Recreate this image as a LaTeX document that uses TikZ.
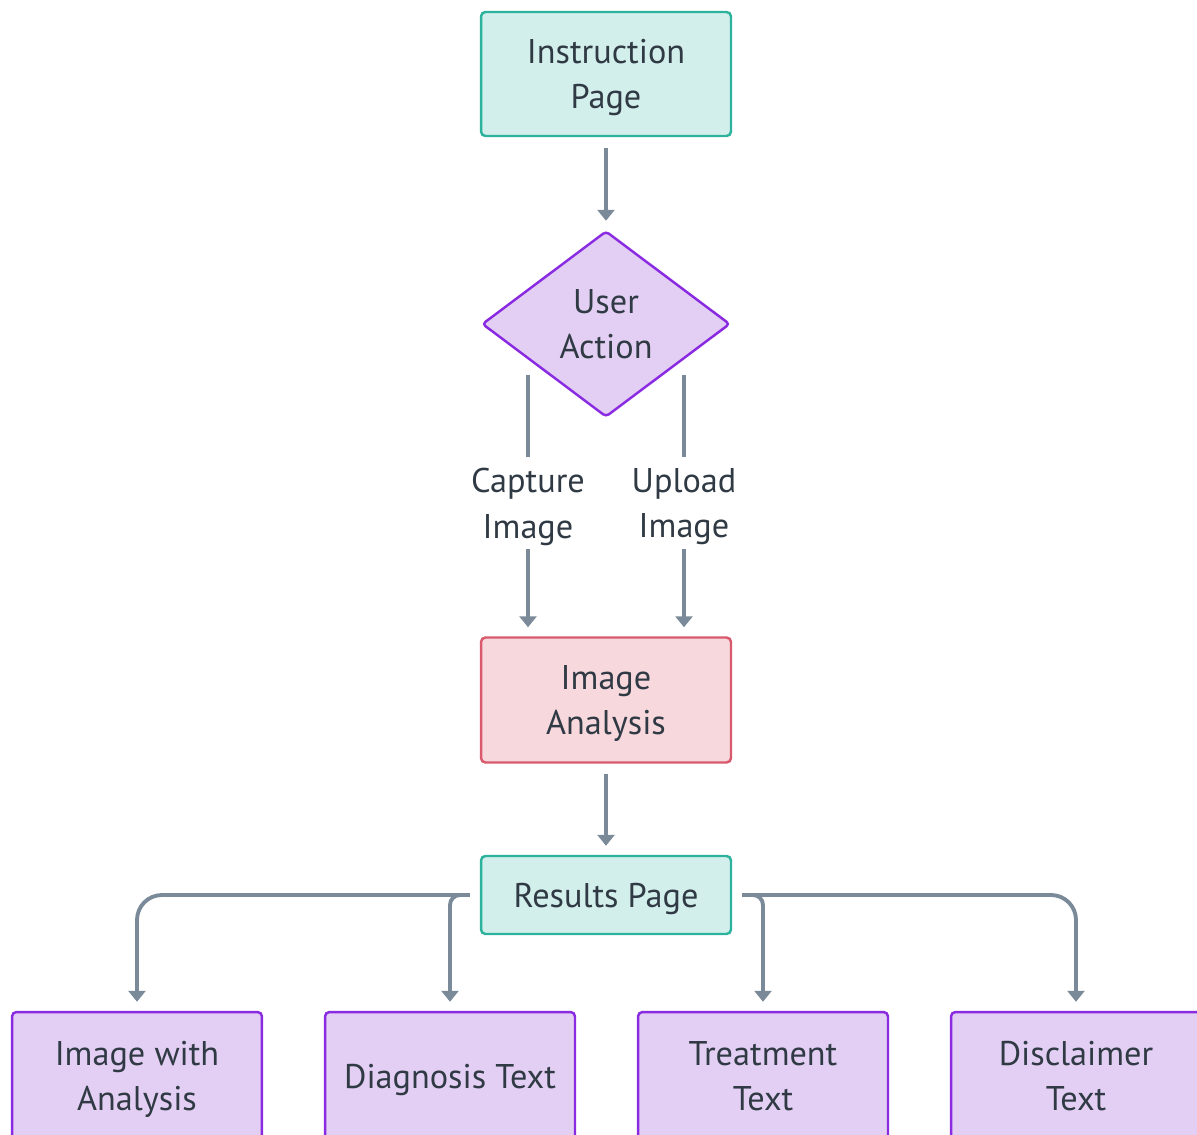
\documentclass[tikz,border=0pt]{standalone}
\usepackage{fontspec}
\setmainfont{PT Sans}
\usetikzlibrary{positioning, arrows.meta, shapes.geometric, calc}
\usepackage{xcolor}
\definecolor{PageFill}{RGB}{211, 239, 235}
\definecolor{PageLine}{RGB}{45, 178, 158}
\definecolor{ActFill}{RGB}{227, 207, 243}
\definecolor{ActLine}{RGB}{138, 43, 226}
\definecolor{ScanFill}{RGB}{247, 216, 221}
\definecolor{ScanLine}{RGB}{216, 90, 108}
\definecolor{LinkGray}{RGB}{122, 138, 153}
\definecolor{InkDark}{RGB}{48, 58, 68}

\begin{document}
\begin{tikzpicture}[x=0.02cm, y=-0.02cm,
    every node/.style={text=InkDark, font=\fontsize{19.5}{26}\selectfont, align=center, text depth=0pt},
    pagebox/.style={draw=PageLine, fill=PageFill, line width=1.4pt, rounded corners=2.5pt, minimum width=5cm},
    outbox/.style={draw=ActLine, fill=ActFill, line width=1.4pt, rounded corners=2.5pt, minimum width=5cm, minimum height=2.56cm},
    choice/.style={diamond, draw=ActLine, fill=ActFill, line width=1.4pt, rounded corners=2pt, minimum width=4.96cm, minimum height=3.72cm, inner sep=0pt},
    scanbox/.style={draw=ScanLine, fill=ScanFill, line width=1.4pt, rounded corners=2.5pt, minimum width=5cm, minimum height=2.5cm},
    link/.style={draw=LinkGray, line width=2.2pt, -{Triangle[width=0.34cm, length=0.22cm]}, shorten >=0.18cm},
    edgetext/.style={inner sep=6pt}]

\clip (0,0) rectangle (1197,1135);

% main column
\node[pagebox, minimum height=2.48cm] (instr) at (606,74) {Instruction\\Page};
\node[choice] (act) at (606,324) {User\\Action};
\node[scanbox] (scan) at (606,700) {Image\\Analysis};
\node[pagebox, minimum height=1.56cm] (res) at (606,895) {Results Page};

% what the results page shows
\node[outbox] (outimg) at (137,1076) {Image with\\Analysis};
\node[outbox] (outdiag) at (450,1076) {Diagnosis Text};
\node[outbox] (outtreat) at (763,1076) {Treatment\\Text};
\node[outbox] (outdisc) at (1076,1076) {Disclaimer\\Text};

% the two ways in
\node[edgetext] (capture) at (528,503) {Capture\\Image};
\node[edgetext] (upload) at (684,503) {Upload\\Image};

\draw[link, shorten <=0.22cm] (instr) -- (act);

\draw[link, -, shorten >=0pt] ($(act.center -| capture)+(0,51)$) -- (capture);
\draw[link] (capture) -- (capture |- scan.north);
\draw[link, -, shorten >=0pt] ($(act.center -| upload)+(0,51)$) -- (upload);
\draw[link] (upload) -- (upload |- scan.north);

\draw[link, shorten <=0.2cm] (scan) -- (res);

\draw[link, rounded corners=0.5cm] ([xshift=-0.2cm]res.west) -| (outimg);
\draw[link, rounded corners=0.2cm] ([xshift=-0.2cm]res.west) -| (outdiag);
\draw[link, rounded corners=0.2cm] ([xshift=0.2cm]res.east) -| (outtreat);
\draw[link, rounded corners=0.5cm] ([xshift=0.2cm]res.east) -| (outdisc);

\end{tikzpicture}
\end{document}
